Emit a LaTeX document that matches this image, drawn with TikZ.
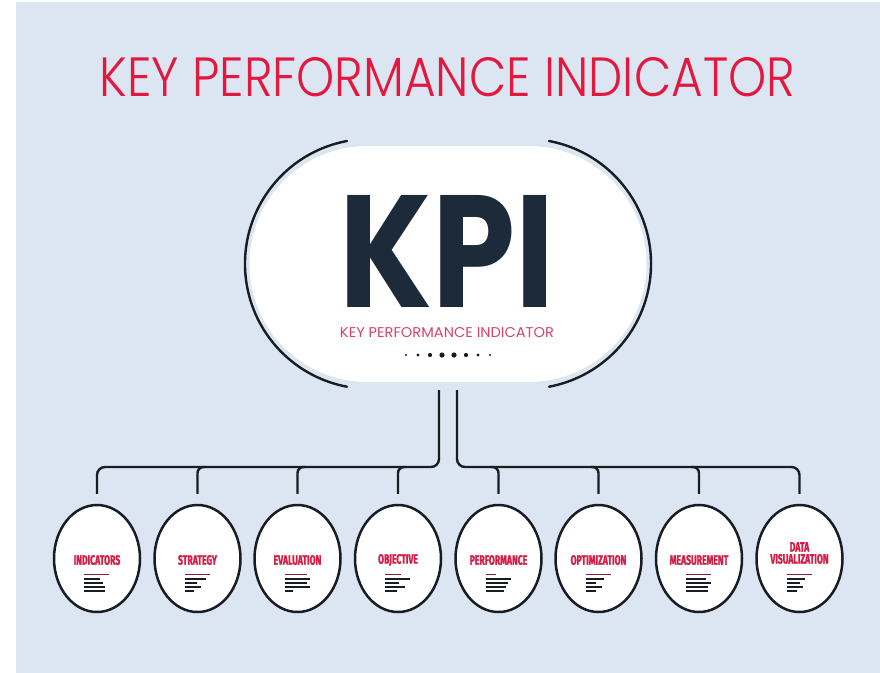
\documentclass[tikz,border=0pt]{standalone}
\usepackage{fontspec}
\setmainfont{Poppins}
\IfFontExistsTF{Poppins Light}{\newfontfamily\titlefont{Poppins Light}}{\newfontfamily\titlefont{Poppins}}
\newfontfamily\labfont{Fira Sans}[FakeStretch=0.64, BoldFeatures={FakeBold=1.3}]
\usetikzlibrary{shapes.geometric,calc}
\definecolor{bg}{RGB}{219,230,242}
\definecolor{tred}{RGB}{226,24,62}
\definecolor{navy}{RGB}{28,42,58}
\definecolor{sred}{RGB}{214,70,105}
\definecolor{lred}{RGB}{212,28,68}
\definecolor{ink}{RGB}{25,28,34}
\tikzset{
  conn/.style={draw=ink, line width=2.4pt, rounded corners=8pt, shorten >=10pt},
  bubble/.style={ellipse, draw=ink, line width=2.5pt, fill=white, minimum width=86pt, minimum height=107pt, inner sep=0pt},
  lab/.style={text=lred, font=\labfont\bfseries\fontsize{13.5}{13.5}\selectfont, inner sep=0pt, align=center},
  bar/.style={draw=ink, line width=1.9pt},
  thinbar/.style={draw=lred!60!ink, line width=1pt},
  arcline/.style={draw=ink, line width=2.4pt, line cap=round}
}
\newcommand{\icon}[6]{%
  \draw[thinbar] ($(#1)+(-13,16)$) -- ++(#2,0);
  \draw[bar] ($(#1)+(-13,20.2)$) -- ++(#3,0);
  \draw[bar] ($(#1)+(-13,24.4)$) -- ++(#4,0);
  \draw[bar] ($(#1)+(-13,28.6)$) -- ++(#5,0);
  \draw[bar] ($(#1)+(-13,32.8)$) -- ++(#6,0);
}
\begin{document}
\begin{tikzpicture}[x=1pt,y=-1pt]
\useasboundingbox (0,0) rectangle (880,672);
\fill[white] (-5,-5) rectangle (890,680);
\fill[bg] (16,2) rectangle (890,680);

% title
\node[text=tred, inner sep=0pt] (title) at (447.5,77.5) {\resizebox{695pt}{39pt}{\titlefont KEY PERFORMANCE INDICATOR}};

% central KPI shape
\node[fill=white, rounded corners=118pt, minimum width=397pt, minimum height=236pt, inner sep=0pt] (kpi) at (448,264) {};
\draw[arcline] ($(kpi.center)+(-101,-123)$) arc[start angle=259.4, end angle=100.6, radius=125];
\draw[arcline] ($(kpi.center)+(101,-123)$) arc[start angle=-79.4, end angle=79.4, radius=125];
\node[text=navy, inner sep=0pt] (kpitxt) at (447.5,251) {\resizebox{215pt}{112pt}{\bfseries KPI}};
\node[text=sred, inner sep=0pt] (sub) at (447,332.5) {\resizebox{214pt}{10pt}{KEY PERFORMANCE INDICATOR}};
\foreach \i/\r in {0/1.1,1/1.6,2/2.1,3/2.6,4/2.6,5/2.1,6/1.6,7/1.1}
  \fill[ink] (406+\i*12,355) circle[radius=\r];

% bubbles
\node[bubble] (c1) at (97,558.5) {};
\node[bubble] (c2) at (197.5,558.5) {};
\node[bubble] (c3) at (297.5,558.5) {};
\node[bubble] (c4) at (398,558.5) {};
\node[bubble] (c5) at (498.5,558.5) {};
\node[bubble] (c6) at (598.5,558.5) {};
\node[bubble] (c7) at (699,558.5) {};
\node[bubble] (c8) at (799.5,558.5) {};

\node[lab] (l1) at ($(c1)+(0,1.5)$) {INDICATORS};
\node[lab] (l2) at ($(c2)+(0,1.5)$) {STRATEGY};
\node[lab] (l3) at ($(c3)+(0,1.5)$) {EVALUATION};
\node[lab] (l4) at ($(c4)+(0,1.5)$) {OBJECTIVE};
\node[lab] (l5) at ($(c5)+(0,1.5)$) {PERFORMANCE};
\node[lab] (l6) at ($(c6)+(0,1.5)$) {OPTIMIZATION};
\node[lab] (l7) at ($(c7)+(0,1.5)$) {MEASUREMENT};
\node[lab] (l8) at ($(c8)+(0,-5.5)$) {DATA\\[-1.5pt]VISUALIZATION};

\icon{c1}{25}{16}{19}{21}{21}
\icon{c2}{25}{21}{12}{16}{9}
\icon{c3}{22}{25}{22}{25}{8}
\icon{c4}{16}{25}{14}{20}{12}
\icon{c5}{10}{25}{22}{20}{18}
\icon{c6}{25}{18}{10}{16}{10}
\icon{c7}{25}{20}{25}{22}{22}
\icon{c8}{25}{18}{13}{16}{10}

% connectors
\coordinate (tL) at (439,390);
\coordinate (tR) at (457,390);
\coordinate (hy) at (0,467);
\draw[conn] (tL) -- (tL |- hy) -- (c1 |- hy) -- (c1.north);
\draw[conn] (tR) -- (tR |- hy) -- (c8 |- hy) -- (c8.north);
\foreach \c in {c2,c3,c4}
  \draw[conn, rounded corners=6pt] ($(\c |- hy)+(8,0)$) -- (\c |- hy) -- (\c.north);
\foreach \c in {c5,c6,c7}
  \draw[conn, rounded corners=6pt] ($(\c |- hy)+(-8,0)$) -- (\c |- hy) -- (\c.north);
\end{tikzpicture}
\end{document}
